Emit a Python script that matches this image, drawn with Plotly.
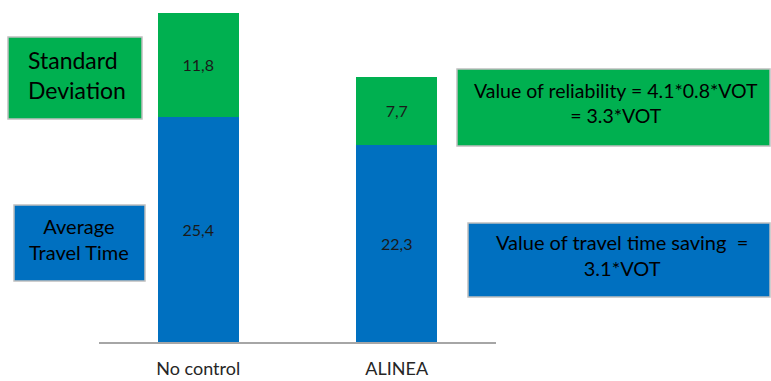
import plotly.graph_objects as go

# Scenario data (minutes)
scenarios = ["No control", "ALINEA"]
avg_travel_time = [25.4, 22.3]
std_deviation = [11.8, 7.7]

avg_labels = ["25,4", "22,3"]
std_labels = ["11,8", "7,7"]

GREEN = "#00B050"
BLUE = "#0070C0"
BOX_EDGE = "#BFBFBF"
FONT = "Lato, 'Open Sans', sans-serif"

W, H = 771, 381
ML, MR, MT, MB = 99, 275, 5, 39
PW, PH = W - ML - MR, H - MT - MB


def px_x(x):
    return (x - ML) / PW


def px_y(y):
    return (H - MB - y) / PH


fig = go.Figure()
fig.add_trace(go.Bar(
    x=scenarios, y=avg_travel_time, text=avg_labels,
    marker=dict(color=BLUE, line=dict(width=0)),
    textposition="inside", insidetextanchor="middle",
    textfont=dict(family=FONT, size=16, color="#1a1a1a"),
    hoverinfo="skip",
))
fig.add_trace(go.Bar(
    x=scenarios, y=std_deviation, text=std_labels,
    marker=dict(color=GREEN, line=dict(width=0)),
    textposition="inside", insidetextanchor="middle",
    textfont=dict(family=FONT, size=16, color="#1a1a1a"),
    hoverinfo="skip",
))

# Explanatory boxes: (left, top, right, bottom) in pixels, fill colour
boxes = [
    ((8, 37, 142, 119), GREEN),
    ((14, 205, 145, 281), BLUE),
    ((457, 69, 770, 146), GREEN),
    ((468, 223, 770, 297), BLUE),
]
shapes = []
for (x0, y0, x1, y1), col in boxes:
    shapes.append(dict(
        type="rect", xref="paper", yref="paper",
        x0=px_x(x0), x1=px_x(x1), y0=px_y(y1), y1=px_y(y0),
        fillcolor=col, line=dict(color=BOX_EDGE, width=1.5), layer="above",
    ))

annotations = [
    dict(text="Standard<br>Deviation", x=px_x(26), y=px_y(75), xanchor="left",
         yanchor="middle", align="left", font=dict(size=23, color="#000")),
    dict(text="Average<br>Travel Time", x=px_x(79), y=px_y(238.5), xanchor="center",
         yanchor="middle", align="center", font=dict(size=20, color="#000")),
    dict(text="Value of reliability = 4.1*0.8*VOT<br>= 3.3*VOT", x=px_x(616), y=px_y(102.5),
         xanchor="center", yanchor="middle", align="center", font=dict(size=19.5, color="#000")),
    dict(text="Value of travel time saving  =<br>3.1*VOT", x=px_x(622), y=px_y(254.5),
         xanchor="center", yanchor="middle", align="center", font=dict(size=20, color="#000")),
]
for a in annotations:
    a.update(xref="paper", yref="paper", showarrow=False)
    a["font"]["family"] = FONT

fig.update_layout(
    width=W, height=H,
    margin=dict(l=ML, r=MR, t=MT, b=MB, pad=0, autoexpand=False),
    barmode="stack", bargap=0.594,
    showlegend=False,
    plot_bgcolor="white", paper_bgcolor="white",
    shapes=shapes, annotations=annotations,
    uniformtext=dict(mode=False),
    xaxis=dict(showline=True, linecolor="#A6A6A6", linewidth=2, ticks="",
               showgrid=False, zeroline=False, ticklabelstandoff=9, automargin=False,
               tickfont=dict(family=FONT, size=18, color="#262626")),
    yaxis=dict(range=[0, PH / 8.85], visible=False, showgrid=False, zeroline=False,
               automargin=False),
)

fig.write_html("out.html", config={"displayModeBar": False})
